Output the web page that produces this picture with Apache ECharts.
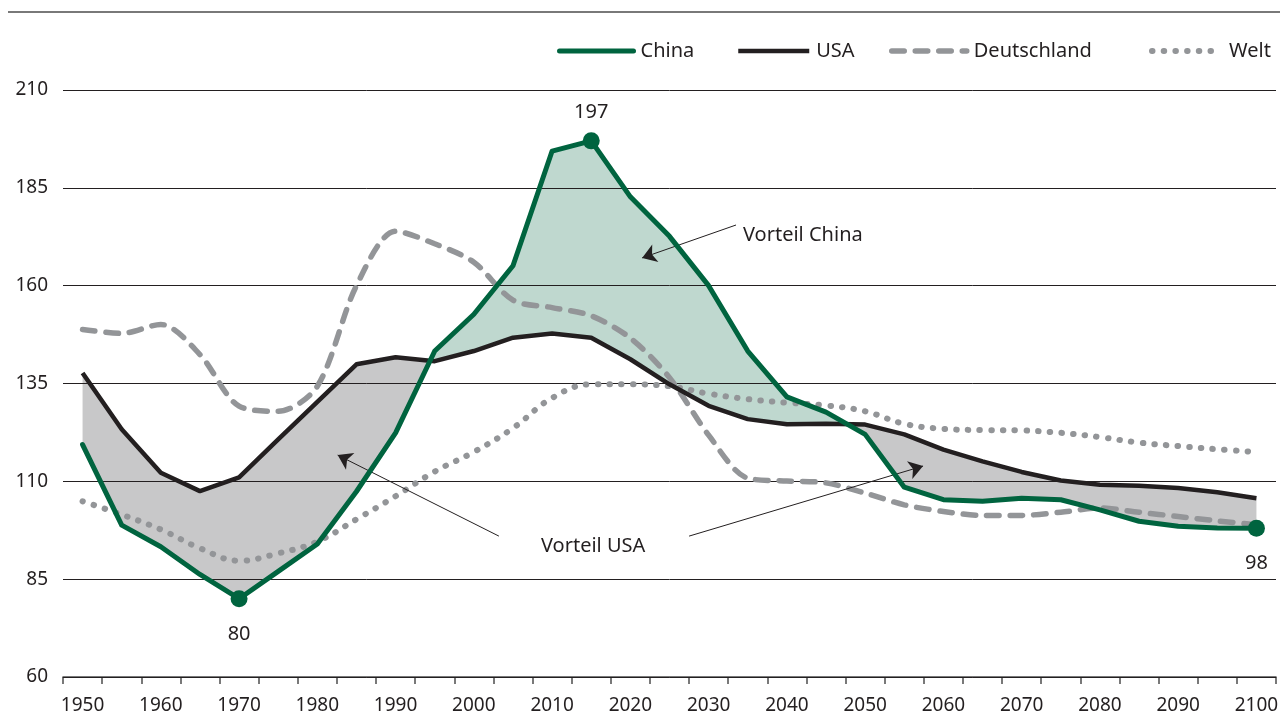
<!DOCTYPE html>
<html>
<head>
    <meta charset="UTF-8">
    <title>China / USA / Deutschland / Welt</title>
    <script type="text/javascript" src="https://cdn.jsdelivr.net/npm/echarts@6/dist/echarts.min.js"></script>
</head>
<body style="margin: 0;padding: 0;">
    <div id="container" style="width:1280px; height:717px;"></div>
    <script>
        // Werte alle 5 Jahre, 1950 bis 2100
        var years = [1950, 1955, 1960, 1965, 1970, 1975, 1980, 1985, 1990, 1995,
            2000, 2005, 2010, 2015, 2020, 2025, 2030, 2035, 2040, 2045,
            2050, 2055, 2060, 2065, 2070, 2075, 2080, 2085, 2090, 2095, 2100];
        var yearLabels = years.map(String);

        var china = [119.4, 98.8, 93.3, 86.2, 80, 87, 94, 107.4, 122.4, 143.3,
            152.7, 165.1, 194.4, 197, 182.7, 172.6, 160, 143.3, 131.6, 127.7,
            122, 108.5, 105.3, 104.9, 105.7, 105.3, 102.7, 99.8, 98.5, 98.1, 98];
        var usa = [137.7, 123.3, 112.2, 107.5, 111, 120.7, 130.3, 139.9, 141.7, 140.7,
            143.3, 146.7, 147.8, 146.7, 141.2, 134.8, 129.3, 125.9, 124.6, 124.7,
            124.5, 122, 118.1, 115.1, 112.4, 110.2, 109.1, 108.9, 108.3, 107.2, 105.7];
        var germany = [148.8, 147.8, 150.1, 142.4, 129.2, 127.9, 134.3, 160, 173.9, 170.7,
            166, 156.3, 154.4, 152.3, 146.6, 136.5, 121.8, 110.8, 110.1, 109.6,
            107, 104, 102.3, 101.3, 101.3, 102.1, 103.2, 102.1, 101, 99.9, 98.9];
        var world = [104.9, 101.5, 97.7, 92.9, 89.7, 91.6, 94.6, 100.3, 106.2, 112.5,
            117.5, 123.6, 131.3, 134.8, 134.8, 134.3, 132.4, 131, 130.1, 129.4,
            127.9, 124.7, 123.4, 123.1, 123, 122.4, 121.3, 119.9, 119, 118.2, 117.5];

        // beschriftete Punkte der China-Linie (Index in years)
        var highlights = [4, 13, 30];

        // Pfeile: [von, nach] in Jahr / Wert
        var arrows = [
            [[2033.5, 175.5], [2021.5, 167.1]],
            [[2003.2, 96.0], [1982.6, 116.7]],
            [[2027.5, 96.0], [2057.4, 113.9]]
        ];

        var FONT = '"Noto Sans", sans-serif';
        var TXT = '#231f20';
        var GREEN = '#00643f';
        var BLACK = '#231f20';
        var GREY = '#939598';
        var FILL_GREEN = '#bfd8cf';
        var FILL_GREY = '#c8c8c9';

        function pairs(arr) {
            return arr.map(function (v, i) { return [years[i], v]; });
        }

        // Flaeche zwischen China und USA, an den Schnittpunkten geteilt
        function renderFill(params, api) {
            var runs = [], cur = null;
            for (var i = 0; i < years.length; i++) {
                var d = china[i] - usa[i];
                if (i > 0) {
                    var dp = china[i - 1] - usa[i - 1];
                    if (dp * d < 0) {
                        var t = dp / (dp - d);
                        var cx = years[i - 1] + t * (years[i] - years[i - 1]);
                        var cy = china[i - 1] + t * (china[i] - china[i - 1]);
                        cur.top.push([cx, cy]);
                        cur.bot.push([cx, cy]);
                        runs.push(cur);
                        cur = { up: d > 0, top: [[cx, cy]], bot: [[cx, cy]] };
                    }
                }
                if (!cur) cur = { up: d > 0, top: [], bot: [] };
                cur.top.push([years[i], china[i]]);
                cur.bot.push([years[i], usa[i]]);
            }
            runs.push(cur);
            return {
                type: 'group',
                children: runs.map(function (r) {
                    var pts = r.top.concat(r.bot.slice().reverse()).map(function (p) {
                        return api.coord(p);
                    });
                    return {
                        type: 'polygon',
                        shape: { points: pts },
                        style: { fill: r.up ? FILL_GREEN : FILL_GREY }
                    };
                })
            };
        }

        function legendItem(name, left, iconW, width) {
            return {
                data: [name],
                left: left,
                top: 41,
                padding: 0,
                itemWidth: iconW,
                itemHeight: 20,
                itemGap: 0,
                selectedMode: false,
                lineStyle: { width: width },
                itemStyle: { color: 'transparent', borderWidth: 0, opacity: 0 },
                textStyle: { fontSize: 20, color: TXT, fontFamily: FONT, padding: [0, 0, 0, 2] }
            };
        }

        var chart = echarts.init(document.getElementById('container'), null, { renderer: 'canvas' });

        var option = {
            animation: false,
            backgroundColor: '#ffffff',
            textStyle: { fontFamily: FONT },
            grid: { left: 63, right: 4, top: 90, bottom: 40, outerBoundsMode: 'none' },
            legend: [
                legendItem('China', 557, 74, 5),
                legendItem('USA', 736, 71, 4.5),
                legendItem('Deutschland', 889, 75, 5.5),
                legendItem('Welt', 1149, 70, 6)
            ],
            graphic: [
                {
                    type: 'line',
                    shape: { x1: 8, y1: 12, x2: 1280, y2: 12 },
                    style: { stroke: '#4d4d4d', lineWidth: 1.5 }
                },
                {
                    type: 'text', x: 743, y: 235,
                    style: { text: 'Vorteil China', fill: TXT, font: '20px ' + FONT, align: 'left', verticalAlign: 'middle' }
                },
                {
                    type: 'text', x: 541, y: 546,
                    style: { text: 'Vorteil USA', fill: TXT, font: '20px ' + FONT, align: 'left', verticalAlign: 'middle' }
                }
            ],
            xAxis: [
                { type: 'value', min: 1947.5, max: 2102.5, show: false },
                {
                    type: 'category',
                    data: yearLabels,
                    boundaryGap: true,
                    position: 'bottom',
                    axisLine: { lineStyle: { color: '#4d4d4d', width: 1.5 } },
                    axisTick: { show: true, length: 7, interval: 0, lineStyle: { color: '#4d4d4d', width: 1.5 } },
                    axisLabel: { interval: 1, fontSize: 19, color: TXT, margin: 19, fontFamily: FONT },
                    splitLine: { show: false }
                }
            ],
            yAxis: {
                type: 'value',
                min: 60,
                max: 210,
                interval: 25,
                z: 1,
                axisLine: { show: false },
                axisTick: { show: false },
                axisLabel: { fontSize: 19, color: TXT, margin: 15, fontFamily: FONT },
                splitLine: { lineStyle: { color: '#231f20', width: 1 } }
            },
            series: [
                {
                    name: 'Vorteil',
                    type: 'custom',
                    xAxisIndex: 0,
                    z: 0,
                    silent: true,
                    data: [[years[0], china[0]]],
                    renderItem: renderFill
                },
                {
                    name: 'Welt',
                    type: 'line',
                    xAxisIndex: 0,
                    data: pairs(world),
                    smooth: 0.4,
                    symbol: 'none',
                    itemStyle: { color: GREY },
                    lineStyle: { color: GREY, width: 6, type: [0.5, 11.2], cap: 'round' },
                    z: 3
                },
                {
                    name: 'Deutschland',
                    type: 'line',
                    xAxisIndex: 0,
                    data: pairs(germany),
                    smooth: 0.3,
                    symbol: 'none',
                    itemStyle: { color: GREY },
                    lineStyle: { color: GREY, width: 5.5, type: [12.5, 11], cap: 'round' },
                    z: 4
                },
                {
                    name: 'USA',
                    type: 'line',
                    xAxisIndex: 0,
                    data: pairs(usa),
                    symbol: 'none',
                    itemStyle: { color: BLACK },
                    lineStyle: { color: BLACK, width: 4.5, join: 'round' },
                    z: 5
                },
                {
                    name: 'China',
                    type: 'line',
                    xAxisIndex: 0,
                    data: pairs(china),
                    symbol: 'none',
                    itemStyle: { color: GREEN },
                    lineStyle: { color: GREEN, width: 5, join: 'round', cap: 'round' },
                    z: 6
                },
                {
                    name: 'China-Punkte',
                    type: 'scatter',
                    xAxisIndex: 0,
                    symbolSize: 17,
                    itemStyle: { color: GREEN, opacity: 1 },
                    z: 7,
                    data: highlights.map(function (i) {
                        var top = china[i] > usa[i];
                        return {
                            value: [years[i], china[i]],
                            label: { position: top ? 'top' : 'bottom', distance: top ? 10 : 17 }
                        };
                    }),
                    label: {
                        show: true,
                        fontSize: 20,
                        color: TXT,
                        fontFamily: FONT,
                        formatter: function (p) { return String(p.value[1]); }
                    },
                    markLine: {
                        silent: true,
                        symbol: ['none', 'arrow'],
                        symbolSize: 14,
                        symbolOffset: 0,
                        label: { show: false },
                        emphasis: { disabled: true },
                        lineStyle: { color: BLACK, width: 1, type: 'solid' },
                        itemStyle: { color: BLACK },
                        data: arrows.map(function (a) {
                            return [{ coord: a[0] }, { coord: a[1] }];
                        })
                    }
                }
            ]
        };

        chart.setOption(option);
    </script>
</body>
</html>
